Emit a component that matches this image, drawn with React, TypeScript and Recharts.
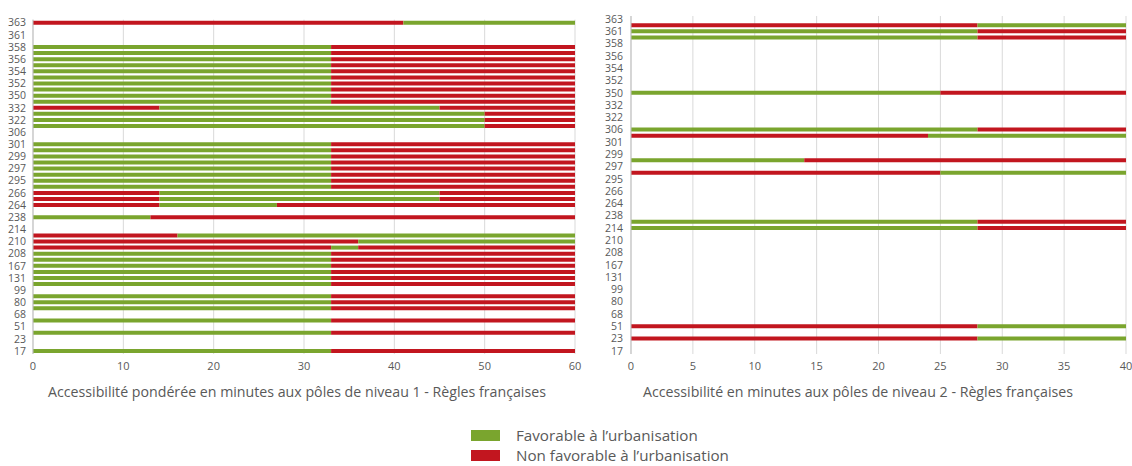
import React from 'react';
import { BarChart, Bar, XAxis, YAxis, CartesianGrid, Cell } from 'recharts';

const _ = null;

// Category labels (top to bottom); only every other one is shown on the axis
const categories = ['363','362','361','360','358','357','356','355','354','353','352','351','350','340','332','330','322','310','306','302','301','300','299','298','297','296','295','270','266','265','264','250','238','220','214','212','210','209','208','180','167','140','131','120','99','90','80','70','68','60','51','30','23','20','17'];

// Level 1 (weighted accessibility, minutes): consecutive segment lengths per row
const level1Seg1 = [41,_,_,_, 33,33,33,33,33,33,33,33,33,33, 14, 50,50,50, _,_, 33,33,33,33,33,33,33,33, 14,14,14, _, 13, _,_, 16,36,33, 33,33,33,33,33,33, _, 33,33,33, _, 33, _, 33, _,_, 33];
const level1Seg2 = [19,_,_,_, 27,27,27,27,27,27,27,27,27,27, 31, 10,10,10, _,_, 27,27,27,27,27,27,27,27, 31,31,13, _, 47, _,_, 44,24,3, 27,27,27,27,27,27, _, 27,27,27, _, 27, _, 27, _,_, 27];
const level1Seg3 = [_,_,_,_, _,_,_,_,_,_,_,_,_,_, 15, _,_,_, _,_, _,_,_,_,_,_,_,_, 15,15,33, _, _, _,_, _,_,24, _,_,_,_,_,_, _, _,_,_, _, _, _, _, _,_, _];
// First segment status: F = favorable, N = non favorable (segments alternate)
const level1Start = ['N','','','', 'F','F','F','F','F','F','F','F','F','F', 'N', 'F','F','F', '','', 'F','F','F','F','F','F','F','F', 'N','N','N', '', 'F', '','', 'N','N','N', 'F','F','F','F','F','F', '', 'F','F','F', '', 'F', '', 'F', '','', 'F'];

// Level 2 (accessibility, minutes)
const level2Seg1 = [_,28,28,28, _,_,_,_,_,_,_,_,25,_, _, _,_,_, 28,24, _,_,_,14,_,25,_,_, _,_,_, _, _, 28,28, _,_,_, _,_,_,_,_,_, _, _,_,_, _, _, 28, _, 28,_, _];
const level2Seg2 = [_,12,12,12, _,_,_,_,_,_,_,_,15,_, _, _,_,_, 12,16, _,_,_,26,_,15,_,_, _,_,_, _, _, 12,12, _,_,_, _,_,_,_,_,_, _, _,_,_, _, _, 12, _, 12,_, _];
const level2Start = ['','N','F','F', '','','','','','','','','F','', '', '','','', 'F','N', '','','','F','','N','','', '','','', '', '', 'F','F', '','','', '','','','','','', '', '','','', '', '', 'N', '', 'N','', ''];

const level1Ticks = [0, 10, 20, 30, 40, 50, 60];
const level2Ticks = [0, 5, 10, 15, 20, 25, 30, 35, 40];

const legendItems = ['Favorable à l’urbanisation', 'Non favorable à l’urbanisation'];
const level1Title = 'Accessibilité pondérée en minutes aux pôles de niveau 1 - Règles françaises';
const level2Title = 'Accessibilité en minutes aux pôles de niveau 2 - Règles françaises';

const GREEN = '#7AA52E';
const RED = '#C2161F';
const FONT = '"Open Sans", "Noto Sans", sans-serif';
const TEXT = '#595959';

const segColor = (start: string, k: number) => {
  const fav = start === 'F' ? k % 2 === 0 : k % 2 === 1;
  return fav ? GREEN : RED;
};

const build = (segs: (number | null)[][]) =>
  categories.map((name, i) => ({
    name,
    s1: segs[0] ? segs[0][i] : null,
    s2: segs[1] ? segs[1][i] : null,
    s3: segs[2] ? segs[2][i] : null,
  }));

const data1 = build([level1Seg1, level1Seg2, level1Seg3]);
const data2 = build([level2Seg1, level2Seg2, []]);

const tickStyle = { fontSize: 10.5, fill: TEXT, fontFamily: FONT };

function Panel(props: {
  data: any[];
  start: string[];
  width: number;
  marginTop: number;
  marginRight: number;
  yWidth: number;
  max: number;
  ticks: number[];
  ySize: number;
  nSeg: number;
}) {
  const { data, start, width, marginTop, marginRight, yWidth, max, ticks, ySize, nSeg } = props;
  const keys = ['s1', 's2', 's3'].slice(0, nSeg);
  return (
    <BarChart
      width={width}
      height={400}
      data={data}
      layout="vertical"
      margin={{ top: marginTop, right: marginRight, bottom: 16, left: 0 }}
      barSize={4}
    >
      <CartesianGrid horizontal={false} stroke="#d9d9d9" />
      <XAxis
        type="number"
        domain={[0, max]}
        ticks={ticks}
        axisLine={false}
        tickLine={false}
        tick={{ ...tickStyle, fontSize: 11 }}
        height={30}
        interval={0}
      />
      <YAxis
        type="category"
        dataKey="name"
        interval={1}
        width={yWidth}
        axisLine={{ stroke: '#bfbfbf' }}
        tickLine={false}
        tickSize={ySize}
        tickMargin={2}
        tick={tickStyle}
      />
      {keys.map((k, ki) => (
        <Bar key={k} dataKey={k} stackId="a" isAnimationActive={false}>
          {data.map((d, i) => (
            <Cell key={i} fill={segColor(start[i], ki)} />
          ))}
        </Bar>
      ))}
    </BarChart>
  );
}

export default function App() {
  return (
    <div style={{ position: 'absolute', left: 0, top: 0, width: 1132, height: 466, background: '#fff', fontFamily: FONT, overflow: 'hidden' }}>
      <div style={{ position: 'absolute', left: 0, top: 0 }}>
        <Panel data={data1} start={level1Start} width={600} marginTop={19.7} marginRight={25} yWidth={33} max={60} ticks={level1Ticks} ySize={5} nSeg={3} />
      </div>
      <div style={{ position: 'absolute', left: 600, top: 0 }}>
        <Panel data={data2} start={level2Start} width={532} marginTop={16} marginRight={6} yWidth={31} max={40} ticks={level2Ticks} ySize={6} nSeg={2} />
      </div>
      <div style={{ position: 'absolute', left: 47, width: 500, top: 382, textAlign: 'center', fontSize: 14.2, color: TEXT, whiteSpace: 'nowrap', lineHeight: '20px' }}>
        {level1Title}
      </div>
      <div style={{ position: 'absolute', left: 608, width: 500, top: 382, textAlign: 'center', fontSize: 14.2, color: TEXT, whiteSpace: 'nowrap', lineHeight: '20px' }}>
        {level2Title}
      </div>
      {legendItems.map((t, i) => (
        <div key={t} style={{ position: 'absolute', left: 471, top: 426 + i * 20, height: 18, display: 'flex', alignItems: 'center' }}>
          <div style={{ width: 29, height: 11, background: i === 0 ? GREEN : RED }} />
          <div style={{ marginLeft: 16, fontSize: 15.2, lineHeight: '18px', color: TEXT, whiteSpace: 'nowrap' }}>{t}</div>
        </div>
      ))}
    </div>
  );
}
